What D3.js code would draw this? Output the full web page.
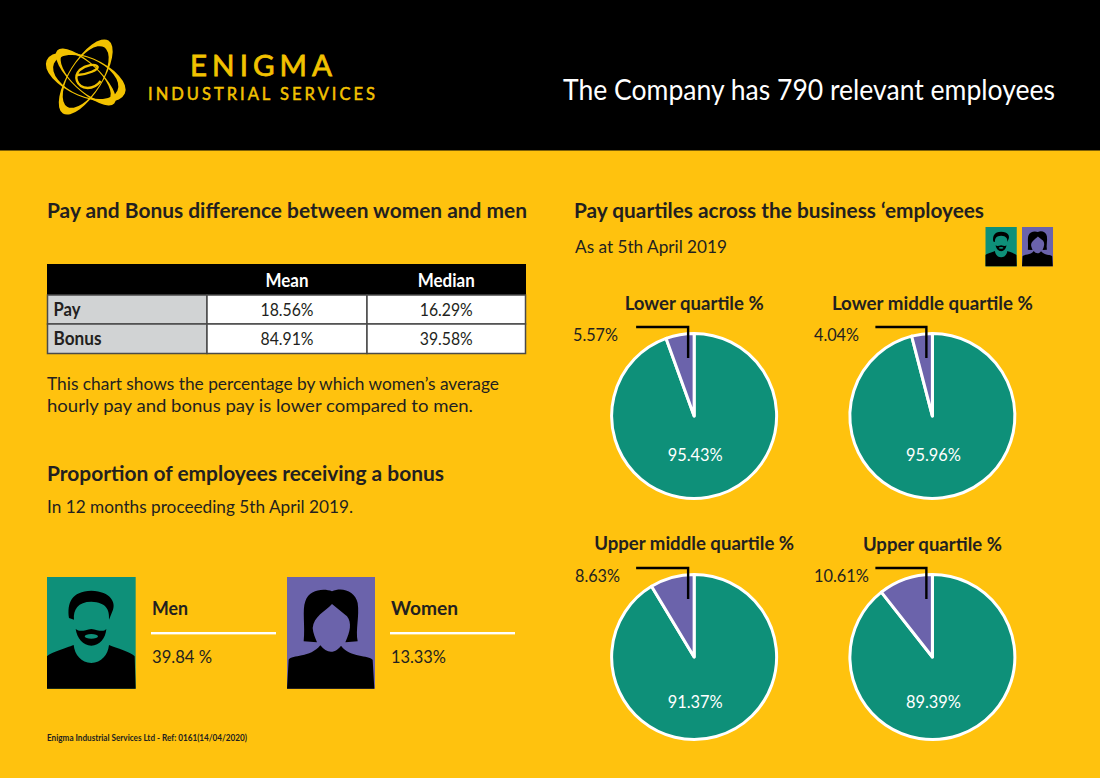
<!DOCTYPE html>
<html>
<head>
<meta charset="utf-8">
<script src="https://cdn.jsdelivr.net/npm/d3@7"></script>
<style>
  html, body { margin: 0; padding: 0; background: #FFC20E; }
  svg { display: block; font-family: Lato, "Open Sans", sans-serif; }
</style>
</head>
<body>
<svg id="chart" width="1100" height="778"></svg>
<script>
/* Values */
const quartileNames = ["Lower quartile %", "Lower middle quartile %", "Upper middle quartile %", "Upper quartile %"];
const menShare = [95.43, 95.96, 91.37, 89.39];
const womenShare = [5.57, 4.04, 8.63, 10.61];

const tableColumns = ["", "Mean", "Median"];
const tableRowNames = ["Pay", "Bonus"];
const meanValues = ["18.56%", "84.91%"];
const medianValues = ["16.29%", "39.58%"];

const bonusGroups = ["Men", "Women"];
const bonusLabels = ["39.84 %", "13.33%"];

/* Colours */
const yellow = "#FFC20E", black = "#000", ink = "#231F20";
const teal = "#0E9079", purple = "#6B63AB", logoYellow = "#F2C200";

/* Layout for the pies */
const pieR = 82.5;
const pieX = d3.scaleBand().domain([0, 1]).range([575, 1051.5]);
const pieY = d3.scaleBand().domain([0, 1]).range([295.5, 777.5]);
const titleBase = [310, 310, 550, 551];
const pctInset = [45, 45, 51, 51];
const sideLabelX = [618, 859, 620, 869];
const sideLabelY = [341, 341, 582, 582];
const leaderStart = [-58, -57, -58, -57];
const titleWidth = [139, 201, 200, 139];
const sideWidth = [45, 45, 45, 55];

const svg = d3.select("#chart");

svg.append("rect").attr("width", 1100).attr("height", 778).attr("fill", yellow);
svg.append("rect").attr("width", 1100).attr("height", 150.5).attr("fill", black);

// text helper, width keeps each string the same length as in the picture
function label(t, x, y, size, weight, fill, width, anchor, adjust) {
  return svg.append("text")
    .attr("x", x).attr("y", y)
    .attr("font-size", size)
    .attr("font-weight", weight)
    .attr("fill", fill)
    .attr("text-anchor", anchor || "start")
    .attr("textLength", width)
    .attr("lengthAdjust", adjust || "spacingAndGlyphs")
    .text(t);
}

/* Header */
drawLogo(svg.append("g").attr("transform", "translate(85.7,77)"));
label("ENIGMA", 190, 75.5, 29.5, 400, logoYellow, 142, "start", "spacing")
  .attr("stroke", logoYellow).attr("stroke-width", 0.8);
label("INDUSTRIAL SERVICES", 148, 100, 16.5, 400, logoYellow, 227, "start", "spacing")
  .attr("stroke", logoYellow).attr("stroke-width", 0.5);
label("The Company has 790 relevant employees", 563, 100, 29, 400, "#fff", 492);

/* Left column */
label("Pay and Bonus difference between women and men", 47, 218, 20, 700, ink, 480);
drawTable();
label("This chart shows the percentage by which women\u2019s average", 47, 390, 18, 400, ink, 452);
label("hourly pay and bonus pay is lower compared to men.", 47, 412, 18, 400, ink, 426);
label("Proportion of employees receiving a bonus", 47, 481, 21, 700, ink, 397);
label("In 12 months proceeding 5th April 2019.", 47, 513, 18, 400, ink, 306);

const bonusX = d3.scalePoint().domain(bonusGroups).range([47, 287]);
const bonusIcon = { Men: drawMan, Women: drawWoman };
const nameW = { Men: 36, Women: 67 }, valueW = { Men: 60, Women: 55 };
bonusGroups.forEach((g, i) => {
  const x = bonusX(g);
  bonusIcon[g](svg.append("g").attr("transform", `translate(${x},577) scale(${1 / 3})`));
  const tx = x + (g === "Men" ? 105 : 104);
  label(g, tx, 615, 18, 700, ink, nameW[g]);
  svg.append("rect").attr("x", tx - 1).attr("y", 632).attr("width", 125).attr("height", 2.4).attr("fill", "#fff");
  label(bonusLabels[i], tx, 663, 18, 400, ink, valueW[g]);
});

label("Enigma Industrial Services Ltd - Ref: 0161(14/04/2020)", 47, 741, 9, 700, ink, 200);

/* Right column */
label("Pay quartiles across the business \u2018employees", 574, 218, 20, 700, ink, 410);
label("As at 5th April 2019", 575, 253, 18, 400, ink, 152);
drawMan(svg.append("g").attr("transform", "translate(985.5,227) scale(0.1175)"));
drawWoman(svg.append("g").attr("transform", "translate(1022,227) scale(0.1175)"));

const pie = d3.pie().sort(null).value(d => d);
const arc = d3.arc().innerRadius(0).outerRadius(pieR);

quartileNames.forEach((name, i) => {
  const cx = pieX(i % 2) + pieX.bandwidth() / 2;
  const cy = pieY(Math.floor(i / 2)) + pieY.bandwidth() / 2;
  const g = svg.append("g").attr("transform", `translate(${cx},${cy})`);

  g.selectAll("path")
    .data(pie([menShare[i], womenShare[i]]))
    .join("path")
      .attr("d", arc)
      .attr("fill", (d, j) => j === 0 ? teal : purple)
      .attr("stroke", "#fff")
      .attr("stroke-width", 3)
      .attr("stroke-linejoin", "round");

  // leader line from the purple slice to its label
  g.append("path")
    .attr("d", `M${leaderStart[i]},-89H-6V-58`)
    .attr("fill", "none")
    .attr("stroke", black)
    .attr("stroke-width", 2.4);

  label(name, cx, titleBase[i], 18, 700, ink, titleWidth[i], "middle");
  label(womenShare[i] + "%", sideLabelX[i], sideLabelY[i], 18, 400, ink, sideWidth[i], "end");
  label(menShare[i] + "%", cx + 1, cy + pctInset[i], 18, 400, "#fff", 55, "middle");
});

function drawTable() {
  const colX = d3.scaleOrdinal().domain([0, 1, 2, 3]).range([47.5, 207, 367, 525.5]);
  const rowY = d3.scaleOrdinal().domain([0, 1, 2]).range([295, 324, 353.5]);
  svg.append("rect").attr("x", 47).attr("y", 264).attr("width", 479).attr("height", 31).attr("fill", black);
  tableColumns.forEach((c, j) => {
    if (c) label(c, (colX(j) + colX(j + 1)) / 2, 287, 18, 700, "#fff", j === 1 ? 43 : 57, "middle");
  });
  tableRowNames.forEach((r, i) => {
    [r, meanValues[i], medianValues[i]].forEach((t, j) => {
      svg.append("rect")
        .attr("x", colX(j)).attr("y", rowY(i))
        .attr("width", colX(j + 1) - colX(j))
        .attr("height", rowY(i + 1) - rowY(i))
        .attr("fill", j === 0 ? "#D1D3D4" : "#fff")
        .attr("stroke", "#4a4a4a")
        .attr("stroke-width", 1.5);
      if (j === 0) label(t, 53.5, rowY(i) + 21, 18, 700, ink, i === 0 ? 27 : 48);
      else label(t, (colX(j) + colX(j + 1)) / 2, rowY(i) + 21, 18, 400, ink, 53, "middle");
    });
  });
}

// icons are drawn in a 266 by 335 box
function drawMan(g) {
  g.append("rect").attr("width", 266).attr("height", 335).attr("fill", teal);
  g.append("path").attr("fill", black).attr("d",
    "M66,123C60,78 73,43 133,41C193,43 206,78 198,98L186,128C188,98 178,76 133,74C93,74 78,98 81,128Z");
  g.append("path").attr("fill", black).attr("fill-rule", "evenodd").attr("d",
    "M86,156C98,166 113,160 133,156C153,160 170,166 178,156C176,183 158,206 133,206C108,206 90,183 86,156Z" +
    "M113,178a20,7 0 1,0 40,0a20,7 0 1,0 -40,0Z");
  g.append("path").attr("fill", black).attr("d",
    "M0,335L0,238C8,228 58,213 80,204C83,233 103,258 133,258C163,258 183,233 186,204C208,213 253,226 263,238L266,335Z");
}

function drawWoman(g) {
  g.append("rect").attr("width", 264).attr("height", 335).attr("fill", purple);
  g.append("path").attr("fill", black).attr("d",
    "M50,193C55,148 45,98 55,73C65,38 110,33 135,43C165,28 205,43 212,78C218,118 205,158 212,193L175,196C190,163 195,138 180,118L135,81C115,103 80,118 77,153C78,168 85,183 90,196Z");
  g.append("path").attr("fill", black).attr("d",
    "M0,335L5,248C15,233 70,243 100,205C110,218 120,224 132,224C145,224 155,216 162,206C190,243 245,233 257,248L262,335Z");
}

// three tapered rings and the small e in the middle
function drawLogo(g) {
  const rings = [[-58, 43, 17, 8, 1], [23, 42.5, 20, 8, 1], [43, 39, 14, 7, 1]];
  const oval = (a, b, sweep) => `M${-a},0A${a},${b} 0 1,${sweep} ${a},0A${a},${b} 0 1,${sweep} ${-a},0Z`;
  rings.forEach(r => {
    g.append("path")
      .attr("transform", `rotate(${r[0]})`)
      .attr("fill", logoYellow)
      .attr("fill-rule", "evenodd")
      .attr("d", oval(r[1], r[2], 1) + oval(r[1] - r[3], r[2] - r[4], 0));
  });
  g.append("path")
    .attr("fill", "none")
    .attr("stroke", logoYellow)
    .attr("stroke-width", 2.4)
    .attr("d", "M-8,-2C3,-3 12,-7 12,-10C10,-14 0,-12 -6,-7C-12,-1 -10,10 2,11C8,11 12,8 15,4");
}
</script>
</body>
</html>
